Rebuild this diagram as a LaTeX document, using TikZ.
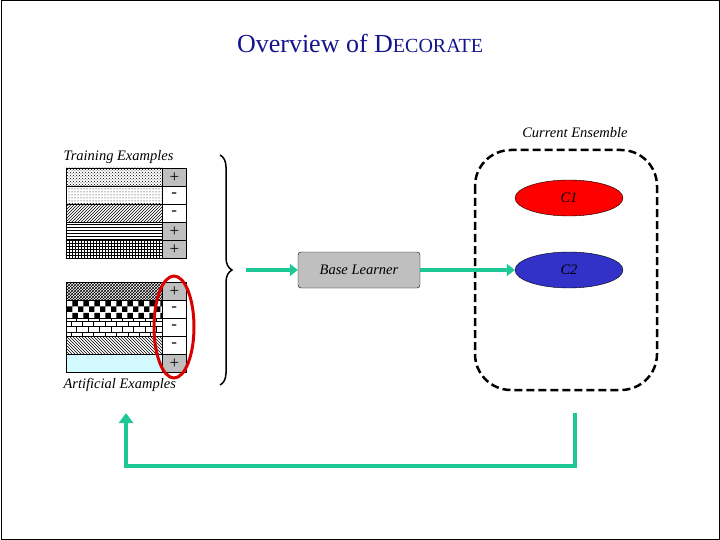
\documentclass[tikz,border=0pt]{standalone}
\usepackage{fontspec}
\setmainfont{Liberation Serif}
\usetikzlibrary{patterns,decorations.pathreplacing,arrows.meta,shapes.geometric}
\begin{document}
\begin{tikzpicture}[x=1pt,y=-1pt,
 pat/.style={draw=black,line width=0.6pt},
 lab/.style={draw=black,line width=0.6pt,minimum width=24pt,minimum height=18pt,inner sep=0pt,font=\fontsize{17}{18}\selectfont},
 grn/.style={draw={rgb,255:red,30;green,200;blue,150},line width=4pt},
 it/.style={font=\itshape\fontsize{14.5}{16}\selectfont}]
\definecolor{gr}{rgb}{0.75,0.75,0.75}
\definecolor{navy}{RGB}{20,20,140}
\useasboundingbox (0,0) rectangle (720,540);
\draw[line width=1pt] (1,1) rectangle (719,539);
\node[text=navy] (title) at (360,43) {\fontsize{26}{30}\selectfont Overview of D{\fontsize{20}{24}\selectfont ECORATE}};
% training
\node[it,anchor=west] (te) at (60,157) {Training Examples};
\foreach \i/\p/\s/\f in {0/crosshatch dots/+/gr,1/dots/-/white,2/north east lines/-/white,3/horizontal lines/+/gr,4/grid/+/gr}{
 \draw[pat,pattern=\p] (66,168+18*\i) rectangle (162,186+18*\i);
 \node[lab,fill=\f,anchor=north west] (t\i) at (162,168+18*\i) {\s};
}
\foreach \i/\p/\s/\f in {0/crosshatch/+/gr,1/checkerboard/-/white,2/bricks/-/white,3/north west lines/-/white}{
 \draw[pat,pattern=\p] (66,282+18*\i) rectangle (162,300+18*\i);
 \node[lab,fill=\f,anchor=north west] (a\i) at (162,282+18*\i) {\s};
}
\draw[pat,fill={rgb,255:red,210;green,250;blue,255}] (66,354) rectangle (162,372);
\node[lab,fill=gr,anchor=north west] (a4) at (162,354) {+};
\node[it,anchor=west] (ae) at (60,385) {Artificial Examples};
\draw[red!85!black,line width=3pt] (174,327) ellipse (20pt and 51pt);
\draw[decorate,decoration={brace,amplitude=12pt},line width=1.5pt] (220,155) -- (220,385);
\node[draw,fill=gr,rounded corners=3pt,minimum width=122pt,minimum height=36pt,it] (bl) at (359,270) {Base Learner};
\coordinate (b0) at (246,270);
\draw[grn,-{Triangle[length=8pt,width=12pt]}] (b0) -- (bl.west);
\draw[dashed,line width=2.5pt,dash pattern=on 8pt off 4pt,rounded corners=36pt] (475,150) rectangle (657,390);
\node[it] (ce) at (575,133) {Current Ensemble};
\node[draw,ellipse,fill=red,minimum width=108pt,minimum height=36pt,it] (c1) at (569,198) {C1};
\node[draw,ellipse,fill={rgb,255:red,50;green,50;blue,200},minimum width=108pt,minimum height=36pt,it] (c2) at (569,270) {C2};
\draw[grn,-{Triangle[length=8pt,width=12pt]}] (bl.east) -- (c2.west);
\coordinate (f0) at (575,413);
\coordinate (f1) at (126,413);
\draw[grn,-{Triangle[length=10pt,width=14pt]}] (f0) -- (575,466) -- (126,466) -- (f1);
\end{tikzpicture}
\end{document}
